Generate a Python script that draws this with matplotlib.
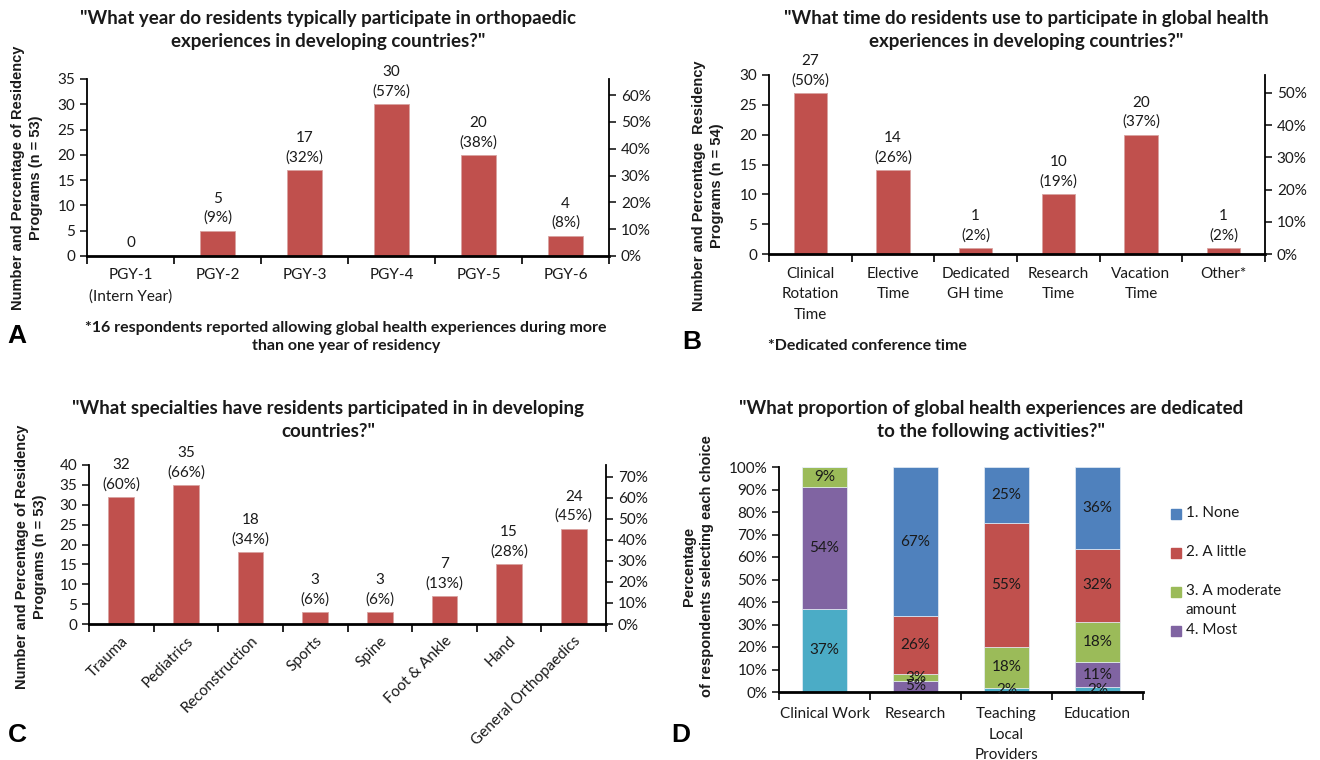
import numpy as np
import matplotlib.pyplot as plt
from matplotlib.patches import Rectangle
from matplotlib.ticker import FuncFormatter

plt.rcParams['font.family'] = ['Lato', 'DejaVu Sans']
plt.rcParams['text.color'] = '#1a1a1a'

BAR_RED = '#C0504D'
TXT = '#1a1a1a'
FS = 11  # tick and value label size

# --- A: year of residency -------------------------------------------------
year_labels = ['PGY-1\n(Intern Year)', 'PGY-2', 'PGY-3', 'PGY-4', 'PGY-5', 'PGY-6']
year_counts = [0, 5, 17, 30, 20, 4]
year_pcts = [None, 9, 32, 57, 38, 8]

# --- B: time used ---------------------------------------------------------
time_labels = ['Clinical\nRotation\nTime', 'Elective\nTime', 'Dedicated\nGH time',
               'Research\nTime', 'Vacation\nTime', 'Other*']
time_counts = [27, 14, 1, 10, 20, 1]
time_pcts = [50, 26, 2, 19, 37, 2]

# --- C: specialties -------------------------------------------------------
spec_labels = ['Trauma', 'Pediatrics', 'Reconstruction', 'Sports', 'Spine',
               'Foot & Ankle', 'Hand', 'General Orthopaedics']
spec_counts = [32, 35, 18, 3, 3, 7, 15, 24]
spec_pcts = [60, 66, 34, 6, 6, 13, 28, 45]

# --- D: share of activities ------------------------------------------------
activities = ['Clinical Work', 'Research', 'Teaching\nLocal\nProviders', 'Education']
pct_all = [37, 0, 2, 2]          # fifth choice, not listed in the legend
pct_most = [54, 5, 0, 11]
pct_moderate = [9, 3, 18, 18]
pct_little = [0, 26, 55, 32]
pct_none = [0, 67, 25, 36]

W, H = 1320, 760


def frac_rect(x0, y_top, x1, y_bot):
    return [x0 / W, 1 - y_bot / H, (x1 - x0) / W, (y_bot - y_top) / H]


def style_axis(ax, ncat):
    for s in ['top', 'right']:
        ax.spines[s].set_visible(False)
    ax.spines['left'].set_linewidth(1.3)
    ax.spines['bottom'].set_linewidth(2.0)
    ax.set_xlim(-0.5, ncat - 0.5)
    ax.set_xticks(range(ncat))
    ax.set_xticks(np.arange(-0.5, ncat), minor=True)
    ax.tick_params(axis='x', which='major', length=0, pad=9, labelsize=FS, colors=TXT)
    ax.tick_params(axis='x', which='minor', length=6, width=1.2, direction='out')
    ax.tick_params(axis='y', length=5, width=1.2, labelsize=FS, colors=TXT)


def count_panel(rect, labels, counts, pcts, n, ymax, ystep, rotate=False):
    ax = fig.add_axes(frac_rect(*rect))
    x = np.arange(len(counts))
    ax.bar(x, counts, width=0.4, color=BAR_RED, edgecolor='#d8a3a1', linewidth=0.6)
    style_axis(ax, len(counts))
    ax.set_ylim(0, ymax)
    ax.set_yticks(range(0, ymax + 1, ystep))
    if rotate:
        ax.set_xticklabels(labels, rotation=45, ha='right', rotation_mode='anchor')
        ax.tick_params(axis='x', which='major', pad=7)
    else:
        ax.set_xticklabels(labels, linespacing=1.6)
    for xi, c, p in zip(x, counts, pcts):
        txt = f'{c}' if p is None else f'{c}\n({p}%)'
        ax.annotate(txt, (xi, c), xytext=(0, 4), textcoords='offset points',
                    ha='center', va='bottom', fontsize=FS, linespacing=1.45)

    # percentage of programs on the right
    ax2 = ax.twinx()
    ax2.set_ylim(0, ymax / n * 100)
    ax2.set_yticks(range(0, int(ymax / n * 100) + 1, 10))
    ax2.yaxis.set_major_formatter(FuncFormatter(lambda v, _: f'{v:.0f}%'))
    for s in ['top', 'left', 'bottom']:
        ax2.spines[s].set_visible(False)
    ax2.spines['right'].set_linewidth(1.3)
    ax2.tick_params(axis='y', length=5, width=1.2, labelsize=FS, colors=TXT)
    return ax


fig = plt.figure(figsize=(13.2, 7.6), dpi=100)

title_kw = dict(ha='center', va='center', fontsize=13.5, fontweight='bold', linespacing=1.45)
ylab_kw = dict(ha='center', va='center', rotation=90, fontsize=10.5, fontweight='bold',
               family=['Liberation Sans', 'DejaVu Sans'], linespacing=1.3)
letter_kw = dict(ha='center', va='center', fontsize=19, fontweight='bold',
                 family=['Liberation Sans', 'DejaVu Sans'], color='black')
note_kw = dict(va='center', fontsize=11.5, fontweight='bold', linespacing=1.4)

# A
count_panel((87, 79, 609, 256), year_labels, year_counts, year_pcts, 53, 35, 5)
fig.text(328 / W, 1 - 30 / H, '"What year do residents typically participate in orthopaedic\n'
         'experiences in developing countries?"', **title_kw)
fig.text(27 / W, 1 - 178 / H, 'Number and Percentage of Residency\nPrograms (n = 53)', **ylab_kw)
fig.text(346 / W, 1 - 337 / H, '*16 respondents reported allowing global health experiences during more\n'
         'than one year of residency', ha='center', **note_kw)
fig.text(17 / W, 1 - 336 / H, 'A', **letter_kw)

# B
count_panel((769, 75, 1265, 254), time_labels, time_counts, time_pcts, 54, 30, 5)
fig.text(1026 / W, 1 - 30 / H, '"What time do residents use to participate in global health\n'
         'experiences in developing countries?"', **title_kw)
fig.text(708 / W, 1 - 186 / H, 'Number and Percentage  Residency\nPrograms (n = 54)', **ylab_kw)
fig.text(768 / W, 1 - 346 / H, '*Dedicated conference time', ha='left', **note_kw)
fig.text(692 / W, 1 - 342 / H, 'B', **letter_kw)

# C
count_panel((89, 465, 606, 624), spec_labels, spec_counts, spec_pcts, 53, 40, 5, rotate=True)
fig.text(328 / W, 1 - 420 / H, '"What specialties have residents participated in in developing\n'
         'countries?"', **title_kw)
fig.text(31 / W, 1 - 557 / H, 'Number and Percentage of Residency\nPrograms (n = 53)', **ylab_kw)
fig.text(17 / W, 1 - 735 / H, 'C', **letter_kw)

# D: 100% stacked bars
axd = fig.add_axes(frac_rect(779, 467, 1143, 692))
series = [
    (pct_all, '#4BACC6', None),
    (pct_most, '#8064A2', '4. Most'),
    (pct_moderate, '#9BBB59', '3. A moderate\namount'),
    (pct_little, '#C0504D', '2. A little'),
    (pct_none, '#4F81BD', '1. None'),
]
totals = np.sum([s[0] for s in series], axis=0)
xd = np.arange(len(activities))
bottom = np.zeros(len(activities))
for vals, col, lab in series:
    h = np.array(vals) / totals * 100
    axd.bar(xd, h, bottom=bottom, width=0.5, color=col, edgecolor='#e6eef6', linewidth=0.5)
    for xi, v, b, hh in zip(xd, vals, bottom, h):
        if v > 0:
            axd.text(xi, b + hh / 2, f'{v}%', ha='center', va='center', fontsize=FS, color=TXT)
    bottom += h
style_axis(axd, len(activities))
axd.set_ylim(0, 100)
axd.set_yticks(range(0, 101, 10))
axd.yaxis.set_major_formatter(FuncFormatter(lambda v, _: f'{v:.0f}%'))
axd.set_xticklabels(activities, linespacing=1.6)
axd.tick_params(axis='x', which='major', pad=11)
fig.text(991 / W, 1 - 420 / H, '"What proportion of global health experiences are dedicated\n'
         'to the following activities?"', **title_kw)
fig.text(698 / W, 1 - 566 / H, 'Percentage\nof respondents selecting each choice', **ylab_kw)
fig.text(681 / W, 1 - 735 / H, 'D', **letter_kw)

# legend for the four listed choices
legend_rows = [('#4F81BD', '1. None', 514), ('#C0504D', '2. A little', 553),
               ('#9BBB59', '3. A moderate\namount', 592), ('#8064A2', '4. Most', 631)]
for col, lab, yy in legend_rows:
    fig.patches.append(Rectangle((1171 / W, 1 - (yy + 5) / H), 10 / W, 10 / H,
                                 transform=fig.transFigure, color=col))
    fig.text(1186 / W, 1 - (yy - 8) / H, lab, ha='left', va='top', fontsize=FS,
             linespacing=1.45)

fig.savefig('out.png', dpi=100, facecolor='white')
